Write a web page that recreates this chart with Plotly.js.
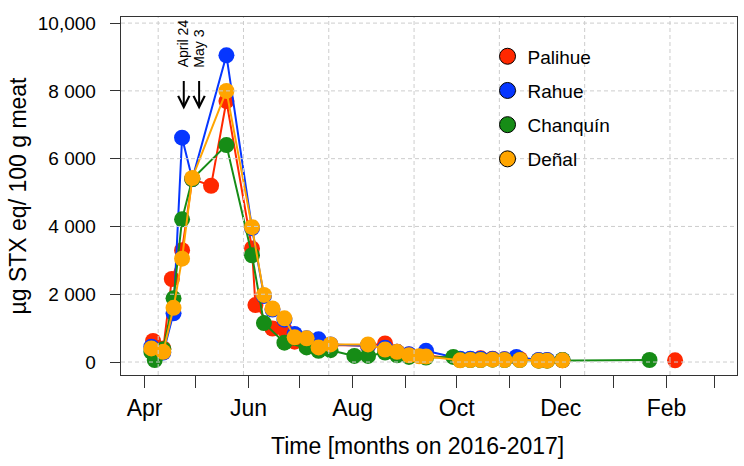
<!DOCTYPE html>
<html>
<head>
<meta charset="utf-8">
<script src="https://cdn.plot.ly/plotly-3.0.1.min.js"></script>
<style>html,body{margin:0;padding:0;background:#fff;}#chart{width:744px;height:466px;}</style>
</head>
<body>
<div id="chart"></div>
<script>
// ---- data ----
const seriesNames = ['Palihue', 'Rahue', 'Chanquín', 'Deñal'];
const seriesColors = ['#FF2800', '#0636FF', '#168C16', '#FFA500'];

const palihueDates = ['2016-04-06','2016-04-12','2016-04-17','2016-04-23','2016-04-29','2016-05-10','2016-05-19','2016-06-03','2016-06-05','2016-06-15','2016-06-22','2016-06-28','2016-07-05','2016-07-12','2016-07-19','2016-08-10','2016-08-20','2016-08-27','2016-09-03','2016-09-13','2016-10-03','2016-10-09','2016-10-15','2016-10-22','2016-10-29','2016-11-07','2016-11-18','2016-11-23','2016-12-02','2017-01-01','2017-02-06'];
const palihueValues = [620, 400, 2450, 3300, 5400, 5200, 7700, 3350, 1680, 990, 960, 600, 650, 450, 500, 480, 550, 300, 220, 200, 80, 80, 110, 100, 80, 90, 50, 50, 50, null, 50];

const rahueDates = ['2016-04-05','2016-04-12','2016-04-18','2016-04-23','2016-04-29','2016-05-19','2016-06-03','2016-06-10','2016-06-15','2016-06-22','2016-06-28','2016-07-05','2016-07-12','2016-07-19','2016-08-10','2016-08-20','2016-08-27','2016-09-03','2016-09-13','2016-10-03','2016-10-09','2016-10-15','2016-10-22','2016-10-29','2016-11-05','2016-11-18','2016-11-23','2016-12-02'];
const rahueValues = [450, 280, 1440, 6620, 5400, 9050, 3950, 1950, 1550, 1250, 830, 700, 670, 520, 480, 420, 300, 230, 330, 100, 100, 100, 90, 80, 150, 60, 60, 60];

const chanquinDates = ['2016-04-05','2016-04-07','2016-04-12','2016-04-18','2016-04-23','2016-04-29','2016-05-19','2016-06-03','2016-06-10','2016-06-22','2016-07-05','2016-07-12','2016-07-19','2016-08-02','2016-08-10','2016-08-20','2016-08-27','2016-09-03','2016-09-13','2016-09-29','2016-10-03','2016-10-09','2016-10-15','2016-10-22','2016-10-29','2016-11-07','2016-11-18','2016-11-23','2016-12-02','2017-01-22'];
const chanquinValues = [300, 60, 380, 1880, 4210, 5400, 6400, 3150, 1150, 570, 430, 330, 350, 180, 180, 280, 200, 150, 130, 150, 60, 60, 60, 70, 60, 60, 40, 40, 60, 60];

const denalDates = ['2016-04-05','2016-04-12','2016-04-18','2016-04-23','2016-04-29','2016-05-19','2016-06-03','2016-06-10','2016-06-15','2016-06-22','2016-06-28','2016-07-05','2016-07-12','2016-07-19','2016-08-10','2016-08-20','2016-08-27','2016-09-03','2016-09-09','2016-09-13','2016-10-03','2016-10-09','2016-10-15','2016-10-22','2016-10-29','2016-11-07','2016-11-18','2016-11-23','2016-12-02'];
const denalValues = [400, 300, 1600, 3050, 5430, 8000, 3980, 1980, 1580, 1290, 730, 700, 430, 520, 520, 370, 300, 200, 170, 160, 50, 60, 60, 70, 60, 60, 40, 40, 50];

const monthTickDates = ['2016-04-01','2016-05-01','2016-06-01','2016-07-01','2016-08-01','2016-09-01','2016-10-01','2016-11-01','2016-12-01','2017-01-01','2017-02-01','2017-03-01'];
const monthTickLabels = ['Apr','','Jun','','Aug','','Oct','','Dec','','Feb',''];
const yTickValues = [0, 2000, 4000, 6000, 8000, 10000];
const yTickLabels = ['0', '2 000', '4 000', '6 000', '8 000', '10,000'];
const xGridDates = ['2016-04-09','2016-05-29','2016-07-18','2016-09-06','2016-10-26','2016-12-15','2017-02-03'];
const eventDates = ['2016-04-24', '2016-05-03'];
const eventLabels = ['April 24', 'May 3'];

// ---- figure ----
const allDates = [palihueDates, rahueDates, chanquinDates, denalDates];
const allValues = [palihueValues, rahueValues, chanquinValues, denalValues];
const FONT = 'Liberation Sans, Arial, sans-serif';

const traces = [];
for (let i = 0; i < 4; i++) {
  traces.push({
    type: 'scatter', mode: 'lines+markers',
    x: allDates[i], y: allValues[i], connectgaps: false,
    line: {color: seriesColors[i], width: 2},
    marker: {color: seriesColors[i], size: 16, line: {width: 0}},
    showlegend: false, hoverinfo: 'x+y'
  });
}
for (let i = 0; i < 4; i++) {
  traces.push({
    type: 'scatter', mode: 'markers', x: [null], y: [null],
    name: seriesNames[i], legendgroup: 'g' + i,
    marker: {color: seriesColors[i], size: 16, line: {color: '#000', width: 1}},
    showlegend: true
  });
}

const gridStyle = {color: 'rgb(205,205,205)', width: 1, dash: '4px,3px'};
const shapes = [];
xGridDates.forEach(d => shapes.push({type: 'line', xref: 'x', yref: 'paper', x0: d, x1: d, y0: 0, y1: 1, line: gridStyle, layer: 'above'}));
yTickValues.forEach(v => shapes.push({type: 'line', xref: 'paper', yref: 'y', x0: 0, x1: 1, y0: v, y1: v, line: gridStyle, layer: 'above'}));

const annotations = [];
eventDates.forEach((d, i) => {
  annotations.push({x: d, y: 7450, xref: 'x', yref: 'y', ax: 0, ay: -30, showarrow: true,
    arrowhead: 5, arrowsize: 1.1, arrowwidth: 2, arrowcolor: '#000', text: ''});
  annotations.push({x: d, y: 8630, xref: 'x', yref: 'y', showarrow: false, text: eventLabels[i],
    textangle: -90, xanchor: 'center', yanchor: 'bottom', xshift: -1,
    font: {family: FONT, size: 14, color: '#000'}});
});
annotations.push({xref: 'paper', yref: 'paper', x: (417 - 121) / 616, y: (375 - 446) / 358, xanchor: 'center', yanchor: 'middle',
  text: 'Time [months on 2016-2017]', showarrow: false, font: {family: FONT, size: 23, color: '#000'}});

const layout = {
  width: 744, height: 466,
  margin: {l: 121, r: 7, t: 17, b: 91},
  paper_bgcolor: '#fff', plot_bgcolor: '#fff',
  font: {family: FONT, color: '#000'},
  showlegend: true,
  legend: {x: 0.595, y: 0.943, xanchor: 'left', yanchor: 'top', bgcolor: 'rgba(0,0,0,0)',
    font: {family: FONT, size: 19, color: '#000'}, itemsizing: 'trace', tracegroupgap: 6.5},
  xaxis: {
    type: 'date', range: ['2016-03-18 05:00', '2017-03-14 07:00'],
    tickmode: 'array', tickvals: monthTickDates, ticktext: monthTickLabels,
    ticks: 'outside', ticklen: 12, tickwidth: 1, tickcolor: '#333',
    showgrid: false, zeroline: false, showline: true, linecolor: '#333', linewidth: 1.3, mirror: true,
    tickfont: {family: FONT, size: 23, color: '#000'}
  },
  yaxis: {
    range: [-383, 10180],
    tickmode: 'array', tickvals: yTickValues, ticktext: yTickLabels,
    ticks: 'outside', ticklen: 10, tickwidth: 1, tickcolor: '#333', ticklabelstandoff: 10,
    showgrid: false, zeroline: false, showline: true, linecolor: '#333', linewidth: 1.3, mirror: true,
    tickfont: {family: FONT, size: 19, color: '#000'},
    title: {text: 'µg STX eq/ 100 g meat', font: {family: FONT, size: 23, color: '#000'}, standoff: 4}
  },
  shapes: shapes,
  annotations: annotations
};

Plotly.newPlot('chart', traces, layout, {displayModeBar: false, staticPlot: true});
</script>
</body>
</html>
